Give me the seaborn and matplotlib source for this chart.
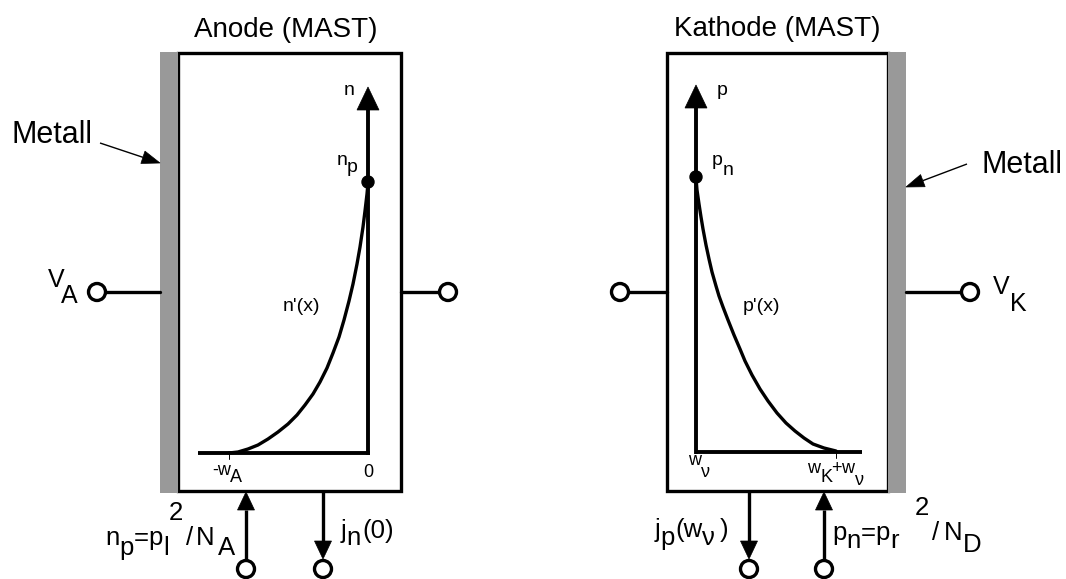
import math
import matplotlib
matplotlib.use("Agg")
import matplotlib.pyplot as plt
import seaborn as sns
from matplotlib.patches import Rectangle, Circle, Polygon

# ---------------- data (pixel frame) ----------------
anode_x = [229, 238, 248, 258, 268, 278, 288, 297, 305, 313, 320, 327, 333, 339,
           344, 349, 353, 357, 360, 363, 365, 367, 368]
anode_n = [453, 452, 449, 445, 439, 432, 424, 415, 405, 394, 382, 368, 353, 337,
           320, 301, 284, 264, 247, 227, 211, 194, 183]
kathode_x = [696, 697, 699, 701, 703, 706, 709, 712, 716, 719, 723, 728, 734, 740,
             745, 752, 760, 768, 777, 786, 795, 804, 813, 824, 836]
kathode_p = [178, 190, 204, 217, 229, 245, 259, 272, 286, 296, 307, 320, 335, 349,
             361, 375, 389, 401, 413, 423, 431, 438, 444, 448, 451]
titles = ["Anode (MAST)", "Kathode (MAST)"]
metal_label = "Metall"
curve_labels = ["n'(x)", "p'(x)"]

sns.set_theme(style="white")
plt.rcParams["font.family"] = ["Liberation Sans", "DejaVu Sans"]

fig = plt.figure(figsize=(10.66, 5.79), dpi=100)
ax = fig.add_axes([0, 0, 1, 1])
ax.set_xlim(0, 1066)
ax.set_ylim(579, 0)
ax.axis("off")
renderer = fig.canvas.get_renderer()

K = "black"
GRAY = "#999999"
LW_BOX = 2.4
LW_AX = 2.8


def T(s, x, y, size, **kw):
    return ax.text(x, y, s, fontsize=size, va="baseline", ha="left", color=K, **kw)


def run(x, y, parts, size):
    for s, dy, gap in parts:
        x += gap
        t = T(s, x, y + dy, size)
        x += t.get_window_extent(renderer).width


def head(tip, d, length, width, z=6):
    tx, ty = tip
    dx, dy = d
    bx, by = tx - dx * length, ty - dy * length
    px, py = -dy, dx
    pts = [(tx, ty), (bx + px * width / 2, by + py * width / 2),
           (bx - px * width / 2, by - py * width / 2)]
    ax.add_patch(Polygon(pts, closed=True, facecolor=K, edgecolor=K, lw=0.5, zorder=z))
    return bx, by


def arrow(x0, y0, x1, y1, lw, length, width):
    L = math.hypot(x1 - x0, y1 - y0)
    d = ((x1 - x0) / L, (y1 - y0) / L)
    bx, by = head((x1, y1), d, length, width)
    ax.plot([x0, bx], [y0, by], color=K, lw=lw, solid_capstyle="butt", zorder=5)


def terminal(cx, cy, r=8.5):
    ax.add_patch(Circle((cx, cy), r, facecolor="white", edgecolor=K, lw=LW_BOX, zorder=7))


# ---------------- boxes ----------------
ax.add_patch(Rectangle((178, 53), 223, 438, fill=False, edgecolor=K, lw=LW_BOX, zorder=3))
ax.add_patch(Rectangle((160, 52), 18, 441, facecolor=GRAY, edgecolor="none", zorder=4))
ax.add_patch(Rectangle((667, 53), 221, 438, fill=False, edgecolor=K, lw=LW_BOX, zorder=3))
ax.add_patch(Rectangle((888, 52), 18, 441, facecolor=GRAY, edgecolor="none", zorder=4))

T(titles[0], 194, 37, 20)
T(titles[1], 674, 36, 20)

# ---------------- metal labels ----------------
T(metal_label, 11, 143, 22)
arrow(100, 143, 160, 163, 1.0, 18, 13)
T(metal_label, 982, 173, 22)
arrow(967, 164, 906, 187, 1.0, 18, 13)

# ---------------- side terminals ----------------
ax.plot([106, 160], [292, 292], color=K, lw=LW_BOX, zorder=5)
terminal(97, 292)
ax.plot([401, 440], [292, 292], color=K, lw=LW_BOX, zorder=5)
terminal(448, 292)
ax.plot([628, 667], [292, 292], color=K, lw=LW_BOX, zorder=5)
terminal(620, 292)
ax.plot([906, 961], [292, 292], color=K, lw=LW_BOX, zorder=5)
terminal(970, 292)

T("V", 48, 287, 18); T("A", 61, 303, 18)
T("V", 993, 294, 18); T("K", 1010, 311, 18)

# ---------------- inner plots ----------------
# anode
arrow(368, 455, 368, 87, LW_AX, 23, 22)
ax.plot([198, 369.5], [453, 453], color=K, lw=LW_AX, zorder=5, solid_capstyle="butt")
ax.plot([229, 229], [453, 459], color=K, lw=0.7, zorder=5)
sns.lineplot(x=anode_x, y=anode_n, ax=ax, sort=False, estimator=None, color=K, lw=2.4, zorder=6)
ax.add_patch(Circle((368, 182), 6, facecolor=K, edgecolor=K, zorder=8))
T("n", 344, 95, 14)
T("n", 337, 165, 14); T("p", 347, 172, 14)
T(curve_labels[0], 283, 311, 14)
T("-w", 212, 475, 13); T("A", 230, 482, 13)
T("0", 363, 477, 13)

# kathode
arrow(696, 454, 696, 85, LW_AX, 23, 22)
ax.plot([694.5, 862], [452, 452], color=K, lw=LW_AX, zorder=5, solid_capstyle="butt")
ax.plot([836, 836], [452, 458], color=K, lw=0.7, zorder=5)
sns.lineplot(x=kathode_x, y=kathode_p, ax=ax, sort=False, estimator=None, color=K, lw=2.4, zorder=6)
ax.add_patch(Circle((696, 177), 6, facecolor=K, edgecolor=K, zorder=8))
T("p", 717, 95, 14)
T("p", 712, 165, 14); T("n", 723, 175, 14)
T(curve_labels[1], 743, 311, 14)
T("w", 688, 465, 13); T("\u03bd", 701, 477, 13)
run(807, 473, [("w", 0, 0), ("K", 9, 0), ("+", 0, -1), ("w", 0, 0), ("\u03bd", 12, 0)], 13)

# ---------------- bottom terminals ----------------
arrow(246, 560, 246, 492, LW_BOX, 18, 17)
terminal(246, 569)
arrow(323, 492, 323, 559, LW_BOX, 18, 17)
terminal(323, 569)
arrow(749, 492, 749, 559, LW_BOX, 18, 17)
terminal(749, 569)
arrow(824, 560, 824, 492, LW_BOX, 18, 17)
terminal(824, 569)

# bottom labels
FS = 18.5
run(105, 545, [("n", 0, 0), ("p", 10, 0), ("=", 0, 0), ("p", 0, 0), ("l", 10, 0),
               ("2", -25, 0), ("/", 0, 3), ("N", 0, 3), ("A", 10, 3)], FS)
run(341, 538, [("j", 0, 0), ("n", 7, 0), ("(0)", 0, 1)], FS)
run(655, 537, [("j", 0, 0), ("p", 8, 0), ("(w", 0, 0), ("\u03bd", 8, 0), (")", 0, 5)], FS)
run(832, 540, [("p", 0, 0), ("n", 8, 0), ("=", 0, 0), ("p", 0, 0), ("r", 8, 0),
               ("2", -25, 16), ("/", 0, 3), ("N", 0, 5), ("D", 12, 0)], FS)

fig.savefig("out.png", dpi=100)
